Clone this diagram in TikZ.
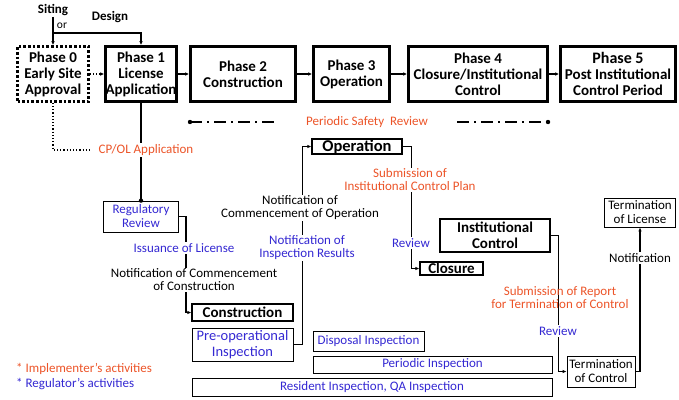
\documentclass[tikz,border=0pt]{standalone}
\usepackage{fontspec}
\setmainfont{Carlito}
\usepackage{xcolor}
\usepackage{tikz}
\usetikzlibrary{shapes, arrows.meta, positioning}

\definecolor{implred}{RGB}{236,84,40}
\definecolor{regblue}{RGB}{52,40,210}

\tikzset{
  phasebox/.style={draw, line width=2.6pt, align=center, inner sep=0pt,
    font=\bfseries\fontsize{15}{16}\selectfont},
  stagebox/.style={draw, line width=1.3pt, align=center, inner sep=0pt,
    font=\bfseries\fontsize{15}{16}\selectfont},
  actbox/.style={draw, line width=0.8pt, align=center, inner sep=0pt,
    font=\fontsize{13}{14}\selectfont},
  lbl/.style={align=center, inner sep=1pt, font=\fontsize{13}{13}\selectfont},
  flow/.style={line width=1.2pt, -{Latex[length=4pt,width=3.5pt]}},
}

\begin{document}
\begin{tikzpicture}[x=1pt, y=-1pt]
  \useasboundingbox (0,0) rectangle (679,399);

  % phases
  \node[phasebox, dotted, minimum width=71, minimum height=55] (p0) at (53,74) {Phase 0\\Early Site\\Approval};
  \node[phasebox, minimum width=69, minimum height=55] (p1) at (141,74) {Phase 1\\License\\Application};
  \node[phasebox, minimum width=105, minimum height=55] (p2) at (243,74) {Phase 2\\Construction};
  \node[phasebox, minimum width=76, minimum height=55] (p3) at (351.5,74) {Phase 3\\Operation};
  \node[phasebox, minimum width=139, minimum height=55] (p4) at (478,74) {Phase 4\\Closure/Institutional\\Control};
  \node[phasebox, minimum width=115, minimum height=55] (p5) at (618,74) {{\fontsize{16}{16}\selectfont Phase 5}\\Post Institutional\\Control Period};

  \node[font=\bfseries\fontsize{13}{13}\selectfont, inner sep=1pt] (siting) at (53,10) {Siting};
  \node[font=\bfseries\fontsize{13}{13}\selectfont, inner sep=1pt] (design) at (110,17) {Design};
  \node[font=\fontsize{11.5}{12}\selectfont, inner sep=1pt] (orlbl) at (62,26) {or};
  \coordinate (split) at (53,33);

  % boxes of activities
  \node[actbox, text=regblue, minimum width=75, minimum height=31] (regrev) at (141,216.5) {Regulatory\\Review};
  \node[stagebox, minimum width=101, minimum height=17] (cons) at (242.5,312.5) {Construction};
  \node[actbox, text=regblue, font=\fontsize{14.5}{16}\selectfont, minimum width=101, minimum height=33] (preop) at (242.5,344.5) {Pre-operational\\Inspection};
  \node[stagebox, font=\bfseries\fontsize{16.5}{16}\selectfont, minimum width=90, minimum height=15] (oper) at (357,146.5) {Operation};
  \node[stagebox, minimum width=110, minimum height=33] (instc) at (495,235.5) {Institutional\\Control};
  \node[stagebox, minimum width=63, minimum height=13] (clos) at (451.5,268.5) {Closure};
  \node[actbox, minimum width=68, minimum height=31] (termc) at (601,371.5) {Termination\\of Control};
  \node[actbox, minimum width=71, minimum height=29] (terml) at (640,212.5) {Termination\\of License};
  \node[actbox, text=regblue, minimum width=111, minimum height=20] (disp) at (368.5,341) {Disposal Inspection};
  \node[actbox, text=regblue, minimum width=239, minimum height=17] (peri) at (432.5,364.5) {Periodic Inspection};
  \node[actbox, text=regblue, minimum width=360, minimum height=18] (resid) at (372,387) {Resident Inspection, QA Inspection};

  % phase flow
  \draw[flow] (siting) -- (p0);
  \draw[flow] (split) -| (p1);
  \draw[flow, dotted] (p0) -- (p1);
  \foreach \a/\b in {p1/p2, p2/p3, p3/p4, p4/p5}
    \draw[flow] (\a) -- (\b);

  % licensing
  \coordinate (cpend) at (90,150);
  \draw[line width=1.2pt, dotted] (p0.south) |- (cpend);
  \draw[line width=1.2pt] (p1.south) -- (regrev.north);
  \fill (regrev.north) circle (2.2);
  \draw[flow] (regrev.east) -- ++(7,0) |- (cons.west);
  \draw[flow] (preop.east) -- ++(9,0) |- (oper.west);
  \draw[flow] (oper.east) -- ++(9,0) |- (clos.west);
  \draw[flow] (instc.east) -- ++(8,0) |- (termc.west);
  \draw[flow] (termc.east) -| (terml.south);

  % periodic safety review
  \coordinate (psa) at (190,122);
  \coordinate (psb) at (277,122);
  \coordinate (psc) at (457,122);
  \coordinate (psd) at (548,122);
  \draw[line width=1.2pt, dash pattern=on 12pt off 5pt on 2pt off 5pt] (psa) -- (psb);
  \draw[line width=1.2pt, dash pattern=on 12pt off 5pt on 2pt off 5pt] (psc) -- (psd);
  \fill (psa) circle (2.2);
  \fill (psd) circle (2.2);
  \node[lbl, text=implred] (psr) at (367,122) {Periodic Safety\ \ Review};

  % labels on the connectors
  \node[lbl, text=implred, fill=white] (cpol) at (146,150) {CP/OL Application};
  \node[lbl, text=regblue, fill=white] (issue) at (184,248) {Issuance of License};
  \node[lbl, fill=white] (ncc) at (194,280) {Notification of Commencement\\of Construction};
  \node[lbl, fill=white] (nco) at (300,208) {Notification of\\Commencement of Operation};
  \node[lbl, text=regblue, fill=white] (nir) at (307,248) {Notification of\\Inspection Results};
  \node[lbl, text=implred, fill=white] (sicp) at (410,180) {Submission of\\Institutional Control Plan};
  \node[lbl, text=regblue, fill=white] (rev1) at (411,243) {Review};
  \node[lbl, text=implred] (srtc) at (560,298) {Submission of Report\\for Termination of Control};
  \node[lbl, text=regblue, fill=white] (rev2) at (558,331) {Review};
  \node[lbl, fill=white] (notif) at (640,258) {Notification};

  % legend
  \node[lbl, text=implred, anchor=west] (leg1) at (15,369) {* Implementer’s activities};
  \node[lbl, text=regblue, anchor=west] (leg2) at (15,384) {* Regulator’s activities};
\end{tikzpicture}
\end{document}
